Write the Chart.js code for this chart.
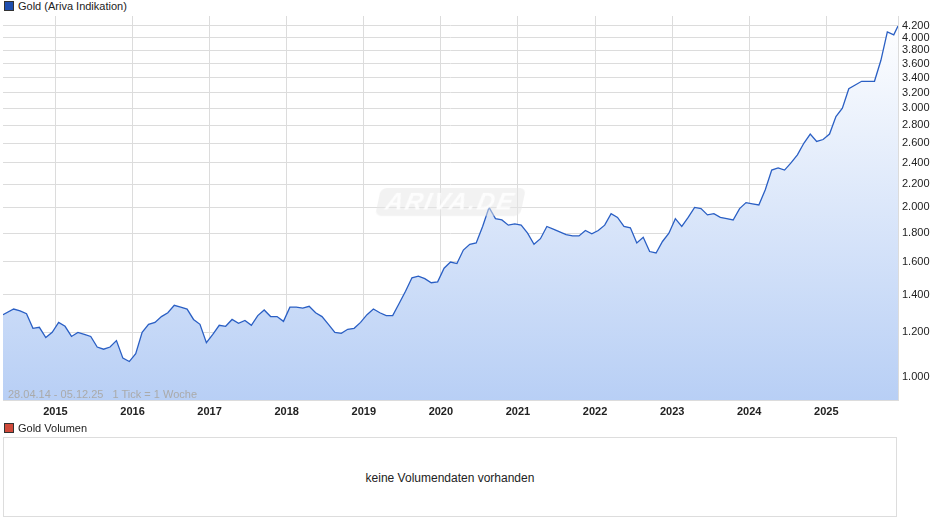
<!DOCTYPE html>
<html>
<head>
<meta charset="utf-8">
<script src="https://cdn.jsdelivr.net/npm/chart.js@4/dist/chart.umd.min.js"></script>
<style>
  body { margin:0; background:#fff; font-family:"Liberation Sans", Arial, sans-serif; }
  #wrap { position:relative; width:940px; height:526px; }
  #main { position:absolute; left:0; top:0; width:940px; height:424px; }
  .leg { position:absolute; font-size:11px; color:#222; }
  .leg span { display:inline-block; width:8px; height:8px; margin-right:4px; border:1px solid #333; vertical-align:-1px; }
  #vol { position:absolute; left:3px; top:437px; width:894px; height:80px; border:1px solid #ddd; box-sizing:border-box;
         font-size:12px; color:#222; text-align:center; line-height:80px; }
  #info { position:absolute; left:8px; top:388px; font-size:11px; color:#aaa; }
  #wm { position:absolute; left:378px; top:188px; width:145px; height:28px; background:rgba(230,230,230,0.5);
        border-radius:6px; transform:skewX(-12deg); color:rgba(255,255,255,0.9); font-size:24px; font-style:italic;
        font-weight:bold; text-align:center; line-height:28px; letter-spacing:2px; }
</style>
</head>
<body>
<div id="wrap">
  <div class="leg" style="left:4px;top:0px"><span style="background:#1f4fb0"></span>Gold (Ariva Indikation)</div>
  <div id="main"><canvas id="chart"></canvas></div>
  <div id="wm">ARIVA.DE</div>
  <div id="info">28.04.14 - 05.12.25&nbsp;&nbsp;&nbsp;1 Tick = 1 Woche</div>
  <div class="leg" style="left:4px;top:422px"><span style="background:#d04a3a"></span>Gold Volumen</div>
  <div id="vol">keine Volumendaten vorhanden</div>
</div>
<script>
// Monatswerte (geschätzt aus dem Bild), Mai 2014 bis Dez 2025
const startYear = 2014
const startMonth = 5
const prices = [
  1290,1320,1310,1295,1220,1225,1175,1200,
  1250,1230,1180,1200,1190,1180,1130,1120,1130,1160,1080,1065,
  1100,1200,1240,1250,1280,1300,1340,1330,1320,1265,1240,1150,
  1190,1235,1230,1265,1245,1260,1235,1285,1315,1280,1280,1255,
  1330,1330,1325,1335,1300,1280,1240,1200,1195,1215,1220,1250,
  1290,1320,1300,1285,1285,1350,1420,1500,1510,1495,1470,1475,
  1560,1600,1590,1680,1720,1730,1850,2000,1910,1900,1860,1870,
  1860,1800,1720,1760,1850,1830,1810,1790,1780,1780,1820,1795,
  1820,1860,1950,1920,1850,1840,1730,1770,1670,1660,1740,1800,
  1910,1850,1920,2000,1990,1940,1950,1920,1910,1900,1990,2040,
  2030,2020,2150,2330,2350,2330,2400,2480,2600,2700,2620,2640,
  2700,2900,3000,3250,3300,3350,3350,3350,3650,4100,4050,4200
]
const yearTicks = [2015,2016,2017,2018,2019,2020,2021,2022,2023,2024,2025]
const priceTicks = [1000,1200,1400,1600,1800,2000,2200,2400,2600,2800,3000,3200,3400,3600,3800,4000,4200]

let points = prices.map((p, i) => {
  let m = startMonth - 1 + i
  return { x: startYear + Math.floor(m / 12) + ((m % 12) + 0.5) / 12, y: p }
})
points[0].x = 2014.32
points[points.length - 1].x = 2025.93

let ctx = document.getElementById("chart")
new Chart(ctx, {
  type: "line",
  data: {
    datasets: [{
      data: points,
      borderColor: "#2a5fc4",
      borderWidth: 1.3,
      pointRadius: 0,
      tension: 0,
      fill: "start",
      backgroundColor: (c) => {
        let a = c.chart.chartArea
        if (!a) return "#d0e0f8"
        let g = c.chart.ctx.createLinearGradient(0, a.top, 0, a.bottom)
        g.addColorStop(0, "#ffffff")
        g.addColorStop(1, "#b8cff5")
        return g
      }
    }]
  },
  options: {
    responsive: true,
    maintainAspectRatio: false,
    animation: false,
    layout: { padding: { left: 3, top: 16, right: 0, bottom: 2 } },
    plugins: { legend: { display: false }, tooltip: { enabled: false } },
    scales: {
      x: {
        type: "linear",
        min: 2014.32,
        max: 2025.93,
        afterBuildTicks: (s) => { s.ticks = yearTicks.map(v => ({ value: v })) },
        afterFit: (s) => { s.height = 22 },
        grid: { color: "#dcdcdc", drawTicks: false },
        border: { color: "#dcdcdc" },
        ticks: { color: "#222", font: { family: "Liberation Sans", size: 11, weight: "bold" }, padding: 5, maxRotation: 0,
                 callback: (v) => String(v) }
      },
      y: {
        type: "logarithmic",
        position: "right",
        min: 910,
        max: 4375,
        afterBuildTicks: (s) => { s.ticks = priceTicks.map(v => ({ value: v })) },
        afterFit: (s) => { s.width = 42 },
        grid: { color: "#dcdcdc", drawTicks: false },
        border: { color: "#dcdcdc" },
        ticks: { color: "#222", font: { family: "Liberation Sans", size: 11 }, padding: 4, autoSkip: false,
                 callback: (v) => (v / 1000).toFixed(3) }
      }
    }
  }
})
</script>
</body>
</html>
